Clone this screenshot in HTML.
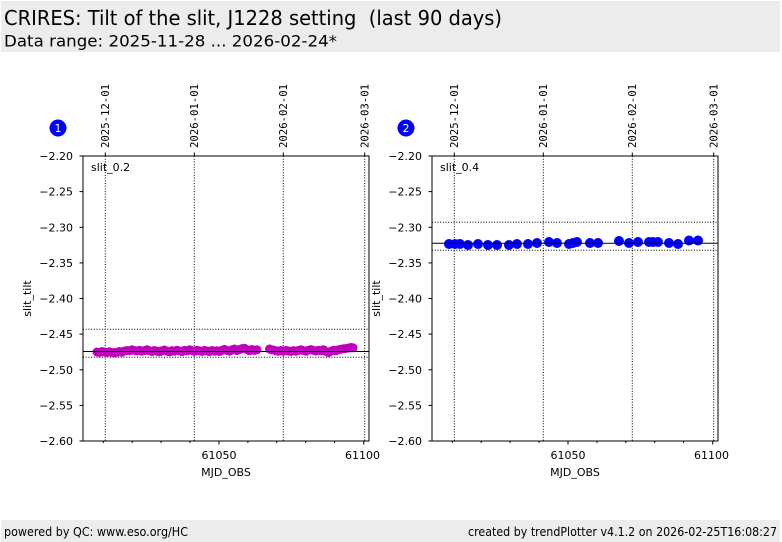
<!DOCTYPE html>
<html><head><meta charset="utf-8"><style>
html,body{margin:0;padding:0;background:#fff;}
svg{display:block;}
text{font-family:"DejaVu Sans","Liberation Sans",sans-serif;fill:#000;}
.mono{font-family:"DejaVu Sans Mono","Liberation Mono",monospace;}
</style></head><body>
<svg width="782" height="542" viewBox="0 0 782 542" xmlns="http://www.w3.org/2000/svg">
<rect x="0" y="0" width="782" height="542" fill="#fff"/>
<rect x="1" y="1" width="779" height="51" fill="#ececec"/>
<text x="4" y="25" font-size="20" textLength="498" lengthAdjust="spacingAndGlyphs">CRIRES: Tilt of the slit, J1228 setting&#160; (last 90 days)</text>
<text x="4" y="46.5" font-size="16" textLength="333" lengthAdjust="spacingAndGlyphs">Data range: 2025-11-28 ... 2026-02-24*</text>
<rect x="1" y="520" width="779" height="22" fill="#ececec"/>
<text x="4" y="536" font-size="12" textLength="184" lengthAdjust="spacingAndGlyphs">powered by QC: www.eso.org/HC</text>
<text x="468" y="536" font-size="12" textLength="309" lengthAdjust="spacingAndGlyphs">created by trendPlotter v4.1.2 on 2026-02-25T16:08:27</text>

<!-- ===== LEFT PLOT ===== -->
<g>
<circle cx="58" cy="128" r="8.5" fill="#0000ff"/>
<text x="58" y="132" font-size="11" text-anchor="middle" style="fill:#ffffe0">1</text>
<g stroke="#000" stroke-width="1" stroke-dasharray="1,1.7">
<line x1="105.3" y1="156" x2="105.3" y2="441"/>
<line x1="194.3" y1="156" x2="194.3" y2="441"/>
<line x1="283.3" y1="156" x2="283.3" y2="441"/>
<line x1="364.7" y1="156" x2="364.7" y2="441"/>
<line x1="83" y1="329.3" x2="369" y2="329.3"/>
<line x1="83" y1="357.3" x2="369" y2="357.3"/>
</g>
<g stroke="#000" stroke-width="1">
<line x1="105.3" y1="152.5" x2="105.3" y2="156"/>
<line x1="194.3" y1="152.5" x2="194.3" y2="156"/>
<line x1="283.3" y1="152.5" x2="283.3" y2="156"/>
<line x1="364.7" y1="152.5" x2="364.7" y2="156"/>
</g>
<g font-size="11">
<text class="mono" transform="translate(109,148) rotate(-90)" textLength="64" lengthAdjust="spacingAndGlyphs">2025-12-01</text>
<text class="mono" transform="translate(198,148) rotate(-90)" textLength="64" lengthAdjust="spacingAndGlyphs">2026-01-01</text>
<text class="mono" transform="translate(287,148) rotate(-90)" textLength="64" lengthAdjust="spacingAndGlyphs">2026-02-01</text>
<text class="mono" transform="translate(368.5,148) rotate(-90)" textLength="64" lengthAdjust="spacingAndGlyphs">2026-03-01</text>
</g>
<g fill="#bf00bf">
<circle cx="97" cy="352" r="4.5"/><circle cx="99.5" cy="352.5" r="4.5"/><circle cx="102" cy="351.5" r="4.5"/><circle cx="104.5" cy="352" r="4.5"/><circle cx="107" cy="352.5" r="4.5"/><circle cx="109.5" cy="351.8" r="4.5"/><circle cx="112" cy="352.5" r="4.5"/><circle cx="114.5" cy="352.8" r="4.5"/><circle cx="117" cy="352.3" r="4.5"/><circle cx="119.5" cy="351.5" r="4.5"/><circle cx="122" cy="352.2" r="4.5"/><circle cx="124.5" cy="351" r="4.5"/><circle cx="127" cy="350.5" r="4.5"/><circle cx="129.5" cy="350.8" r="4.5"/><circle cx="132" cy="349.8" r="4.5"/><circle cx="134.5" cy="350.5" r="4.5"/><circle cx="137" cy="351" r="4.5"/><circle cx="139.5" cy="350.2" r="4.5"/><circle cx="142" cy="351.2" r="4.5"/><circle cx="144.5" cy="350.6" r="4.5"/><circle cx="147" cy="349.8" r="4.5"/><circle cx="149.5" cy="350.8" r="4.5"/><circle cx="152" cy="351.5" r="4.5"/><circle cx="154.5" cy="350.5" r="4.5"/><circle cx="157" cy="351.2" r="4.5"/><circle cx="159.5" cy="351.8" r="4.5"/><circle cx="162" cy="350.8" r="4.5"/><circle cx="164.5" cy="350" r="4.5"/><circle cx="167" cy="351.2" r="4.5"/><circle cx="169.5" cy="351.8" r="4.5"/><circle cx="172" cy="350.6" r="4.5"/><circle cx="174.5" cy="351.2" r="4.5"/><circle cx="177" cy="350.2" r="4.5"/><circle cx="179.5" cy="351" r="4.5"/><circle cx="182" cy="351.6" r="4.5"/><circle cx="184.5" cy="350.4" r="4.5"/><circle cx="187" cy="350.9" r="4.5"/><circle cx="189.5" cy="349.8" r="4.5"/><circle cx="192" cy="350.6" r="4.5"/><circle cx="194.5" cy="351.3" r="4.5"/><circle cx="197" cy="350.2" r="4.5"/><circle cx="199.5" cy="350.9" r="4.5"/><circle cx="202" cy="351.5" r="4.5"/><circle cx="204.5" cy="350.4" r="4.5"/><circle cx="207" cy="351" r="4.5"/><circle cx="209.5" cy="351.6" r="4.5"/><circle cx="212" cy="350.5" r="4.5"/><circle cx="214.5" cy="351.2" r="4.5"/><circle cx="217" cy="350.7" r="4.5"/><circle cx="219.5" cy="351.4" r="4.5"/><circle cx="222" cy="350.3" r="4.5"/><circle cx="224.5" cy="349.4" r="4.5"/><circle cx="227" cy="350.5" r="4.5"/><circle cx="229.5" cy="351.2" r="4.5"/><circle cx="232" cy="349.8" r="4.5"/><circle cx="234.5" cy="349" r="4.5"/><circle cx="237" cy="350.6" r="4.5"/><circle cx="239.5" cy="349.5" r="4.5"/><circle cx="242" cy="348.6" r="4.5"/><circle cx="244.5" cy="348.2" r="4.5"/><circle cx="247" cy="349.6" r="4.5"/><circle cx="249.5" cy="350.8" r="4.5"/><circle cx="252" cy="349.5" r="4.5"/><circle cx="254.5" cy="350.5" r="4.5"/><circle cx="257" cy="349.8" r="4.5"/>
<circle cx="269.5" cy="349" r="4.5"/><circle cx="271.5" cy="349.8" r="4.5"/><circle cx="273.5" cy="350" r="4.5"/><circle cx="276" cy="350.8" r="4.5"/><circle cx="278.5" cy="351.3" r="4.5"/><circle cx="281" cy="350.5" r="4.5"/><circle cx="283.5" cy="351.2" r="4.5"/><circle cx="286" cy="350.4" r="4.5"/><circle cx="288.5" cy="351" r="4.5"/><circle cx="291" cy="351.5" r="4.5"/><circle cx="293.5" cy="350.6" r="4.5"/><circle cx="296" cy="351.2" r="4.5"/><circle cx="298.5" cy="350.4" r="4.5"/><circle cx="301" cy="349.8" r="4.5"/><circle cx="303.5" cy="350.6" r="4.5"/><circle cx="306" cy="351.2" r="4.5"/><circle cx="308.5" cy="350.3" r="4.5"/><circle cx="311" cy="349.6" r="4.5"/><circle cx="313.5" cy="350.4" r="4.5"/><circle cx="316" cy="351" r="4.5"/><circle cx="318.5" cy="350.2" r="4.5"/><circle cx="321" cy="350.8" r="4.5"/><circle cx="323.5" cy="349.7" r="4.5"/><circle cx="326" cy="351.5" r="4.5"/><circle cx="328.5" cy="352.5" r="4.5"/><circle cx="331" cy="351.2" r="4.5"/><circle cx="333.5" cy="350.3" r="4.5"/><circle cx="336" cy="350.8" r="4.5"/><circle cx="338.5" cy="349.8" r="4.5"/><circle cx="341" cy="349.2" r="4.5"/><circle cx="343.5" cy="348.8" r="4.5"/><circle cx="346" cy="348.5" r="4.5"/><circle cx="348.5" cy="348" r="4.5"/><circle cx="351" cy="347.5" r="4.5"/><circle cx="353" cy="347.8" r="4.5"/>
</g>
<line x1="83" y1="351.5" x2="369" y2="351.5" stroke="#000" stroke-width="1"/>
<rect x="83" y="156" width="286" height="285" fill="none" stroke="#000" stroke-width="1"/>
<text x="91" y="171" font-size="11">slit_0.2</text>
<g stroke="#000" stroke-width="1">
<line x1="79.5" y1="156" x2="83" y2="156"/><line x1="79.5" y1="191.6" x2="83" y2="191.6"/><line x1="79.5" y1="227.3" x2="83" y2="227.3"/><line x1="79.5" y1="262.9" x2="83" y2="262.9"/><line x1="79.5" y1="298.5" x2="83" y2="298.5"/><line x1="79.5" y1="334.1" x2="83" y2="334.1"/><line x1="79.5" y1="369.8" x2="83" y2="369.8"/><line x1="79.5" y1="405.4" x2="83" y2="405.4"/><line x1="79.5" y1="441" x2="83" y2="441"/>
<line x1="219" y1="441" x2="219" y2="444.5"/><line x1="363.7" y1="441" x2="363.7" y2="444.5"/>
<line x1="103.3" y1="441" x2="103.3" y2="443"/><line x1="132.2" y1="441" x2="132.2" y2="443"/><line x1="161.1" y1="441" x2="161.1" y2="443"/><line x1="190" y1="441" x2="190" y2="443"/><line x1="247.9" y1="441" x2="247.9" y2="443"/><line x1="276.8" y1="441" x2="276.8" y2="443"/><line x1="305.7" y1="441" x2="305.7" y2="443"/><line x1="334.6" y1="441" x2="334.6" y2="443"/>
</g>
<g font-size="11" text-anchor="end">
<text x="73" y="160">−2.20</text><text x="73" y="195.6">−2.25</text><text x="73" y="231.3">−2.30</text><text x="73" y="266.9">−2.35</text><text x="73" y="302.5">−2.40</text><text x="73" y="338.1">−2.45</text><text x="73" y="373.8">−2.50</text><text x="73" y="409.4">−2.55</text><text x="73" y="445">−2.60</text>
</g>
<g font-size="11" text-anchor="middle">
<text x="219" y="459">61050</text><text x="362.5" y="459">61100</text>
<text x="226" y="476">MJD_OBS</text>
</g>
<text transform="translate(31,298.5) rotate(-90)" font-size="11" text-anchor="middle">slit_tilt</text>
</g>

<!-- ===== RIGHT PLOT ===== -->
<g>
<circle cx="406" cy="128" r="8.5" fill="#0000ff"/>
<text x="406" y="132" font-size="11" text-anchor="middle" style="fill:#ffffe0">2</text>
<g stroke="#000" stroke-width="1" stroke-dasharray="1,1.7">
<line x1="454.3" y1="156" x2="454.3" y2="441"/>
<line x1="543.3" y1="156" x2="543.3" y2="441"/>
<line x1="632.3" y1="156" x2="632.3" y2="441"/>
<line x1="713.7" y1="156" x2="713.7" y2="441"/>
<line x1="432" y1="222.3" x2="718" y2="222.3"/>
<line x1="432" y1="250.3" x2="718" y2="250.3"/>
</g>
<g stroke="#000" stroke-width="1">
<line x1="454.3" y1="152.5" x2="454.3" y2="156"/>
<line x1="543.3" y1="152.5" x2="543.3" y2="156"/>
<line x1="632.3" y1="152.5" x2="632.3" y2="156"/>
<line x1="713.7" y1="152.5" x2="713.7" y2="156"/>
</g>
<g font-size="11">
<text class="mono" transform="translate(458,148) rotate(-90)" textLength="64" lengthAdjust="spacingAndGlyphs">2025-12-01</text>
<text class="mono" transform="translate(547,148) rotate(-90)" textLength="64" lengthAdjust="spacingAndGlyphs">2026-01-01</text>
<text class="mono" transform="translate(636,148) rotate(-90)" textLength="64" lengthAdjust="spacingAndGlyphs">2026-02-01</text>
<text class="mono" transform="translate(717.5,148) rotate(-90)" textLength="64" lengthAdjust="spacingAndGlyphs">2026-03-01</text>
</g>
<g fill="#0000ff">
<circle cx="449" cy="244" r="5"/><circle cx="455" cy="244" r="5"/><circle cx="460" cy="244" r="5"/><circle cx="468" cy="245" r="5"/><circle cx="478" cy="244" r="5"/><circle cx="488" cy="245" r="5"/><circle cx="497" cy="245" r="5"/><circle cx="509" cy="245" r="5"/><circle cx="517" cy="244" r="5"/><circle cx="528" cy="244" r="5"/><circle cx="537" cy="243" r="5"/><circle cx="549" cy="242" r="5"/><circle cx="557" cy="243" r="5"/><circle cx="569" cy="244" r="5"/><circle cx="573" cy="243" r="5"/><circle cx="577" cy="242" r="5"/><circle cx="590" cy="243" r="5"/><circle cx="598" cy="243" r="5"/><circle cx="619" cy="241" r="5"/><circle cx="629" cy="243" r="5"/><circle cx="638" cy="242" r="5"/><circle cx="649" cy="242" r="5"/><circle cx="653" cy="242" r="5"/><circle cx="658" cy="242" r="5"/><circle cx="669" cy="243" r="5"/><circle cx="678" cy="244" r="5"/><circle cx="689" cy="240.5" r="5"/><circle cx="698" cy="240.5" r="5"/>
</g>
<line x1="432" y1="243.3" x2="718" y2="243.3" stroke="#000" stroke-width="1"/>
<rect x="432" y="156" width="286" height="285" fill="none" stroke="#000" stroke-width="1"/>
<text x="440" y="171" font-size="11">slit_0.4</text>
<g stroke="#000" stroke-width="1">
<line x1="428.5" y1="156" x2="432" y2="156"/><line x1="428.5" y1="191.6" x2="432" y2="191.6"/><line x1="428.5" y1="227.3" x2="432" y2="227.3"/><line x1="428.5" y1="262.9" x2="432" y2="262.9"/><line x1="428.5" y1="298.5" x2="432" y2="298.5"/><line x1="428.5" y1="334.1" x2="432" y2="334.1"/><line x1="428.5" y1="369.8" x2="432" y2="369.8"/><line x1="428.5" y1="405.4" x2="432" y2="405.4"/><line x1="428.5" y1="441" x2="432" y2="441"/>
<line x1="568" y1="441" x2="568" y2="444.5"/><line x1="712.7" y1="441" x2="712.7" y2="444.5"/>
<line x1="452.3" y1="441" x2="452.3" y2="443"/><line x1="481.2" y1="441" x2="481.2" y2="443"/><line x1="510.1" y1="441" x2="510.1" y2="443"/><line x1="539" y1="441" x2="539" y2="443"/><line x1="596.9" y1="441" x2="596.9" y2="443"/><line x1="625.8" y1="441" x2="625.8" y2="443"/><line x1="654.7" y1="441" x2="654.7" y2="443"/><line x1="683.6" y1="441" x2="683.6" y2="443"/>
</g>
<g font-size="11" text-anchor="end">
<text x="422" y="160">−2.20</text><text x="422" y="195.6">−2.25</text><text x="422" y="231.3">−2.30</text><text x="422" y="266.9">−2.35</text><text x="422" y="302.5">−2.40</text><text x="422" y="338.1">−2.45</text><text x="422" y="373.8">−2.50</text><text x="422" y="409.4">−2.55</text><text x="422" y="445">−2.60</text>
</g>
<g font-size="11" text-anchor="middle">
<text x="568" y="459">61050</text><text x="711.5" y="459">61100</text>
<text x="575" y="476">MJD_OBS</text>
</g>
<text transform="translate(380,298.5) rotate(-90)" font-size="11" text-anchor="middle">slit_tilt</text>
</g>
</svg>
</body></html>
